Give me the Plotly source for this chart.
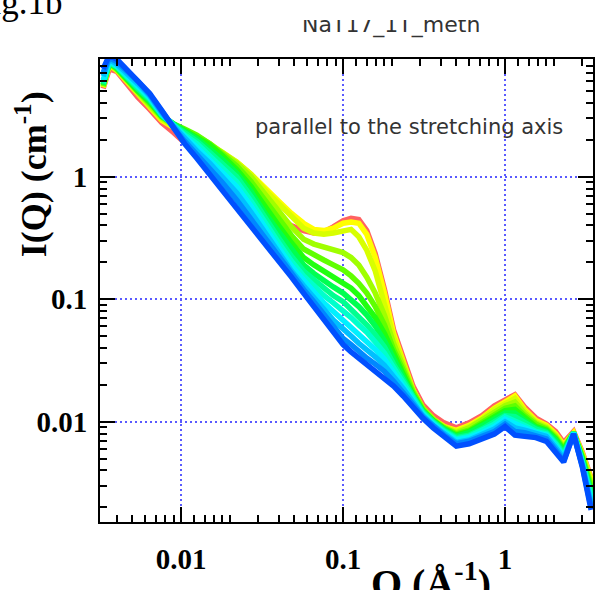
import plotly.graph_objects as go

# ---------------- data ----------------
q_values = [0.0033, 0.0036, 0.0040, 0.0046, 0.0054, 0.0064, 0.0076, 0.0090, 0.0105, 0.0125,
            0.015, 0.018, 0.022, 0.027, 0.033, 0.040, 0.048, 0.057, 0.066, 0.076,
            0.087, 0.100, 0.112, 0.125, 0.140, 0.158, 0.180, 0.205, 0.235, 0.27,
            0.31, 0.36, 0.42, 0.50, 0.60, 0.72, 0.86, 1.00, 1.15, 1.32,
            1.55, 1.80, 2.05, 2.30, 2.65, 3.00, 3.40]

# log10 of I(Q) in cm^-1 for each scan (first = red, last = blue)
log_i_01 = [0.72, 0.88, 0.86, 0.76, 0.65, 0.55, 0.44, 0.36, 0.28, 0.22,
            0.16, 0.10, 0.00, -0.12, -0.24, -0.35, -0.40, -0.44, -0.46, -0.45,
            -0.41, -0.36, -0.34, -0.35, -0.44, -0.63, -0.92, -1.25, -1.48, -1.71,
            -1.86, -1.95, -2.01, -2.05, -2.01, -1.95, -1.87, -1.82, -1.78, -1.88,
            -1.97, -2.02, -2.08, -2.17, -2.08, -2.25, -2.46]
log_i_02 = [0.73, 0.91, 0.87, 0.78, 0.67, 0.57, 0.46, 0.40, 0.35, 0.30,
            0.24, 0.19, 0.12, 0.02, -0.10, -0.20, -0.30, -0.38, -0.43, -0.44,
            -0.42, -0.38, -0.37, -0.38, -0.47, -0.66, -0.95, -1.28, -1.51, -1.74,
            -1.89, -1.98, -2.04, -2.07, -2.03, -1.97, -1.89, -1.84, -1.79, -1.90,
            -1.99, -2.03, -2.10, -2.19, -2.09, -2.26, -2.47]
log_i_03 = [0.73, 0.92, 0.87, 0.79, 0.68, 0.58, 0.47, 0.41, 0.37, 0.32,
            0.26, 0.20, 0.12, 0.02, -0.11, -0.22, -0.33, -0.42, -0.46, -0.47,
            -0.46, -0.44, -0.43, -0.49, -0.60, -0.77, -1.03, -1.31, -1.52, -1.74,
            -1.89, -1.98, -2.04, -2.08, -2.04, -1.98, -1.90, -1.85, -1.81, -1.91,
            -2.00, -2.04, -2.11, -2.20, -2.09, -2.27, -2.49]
log_i_04 = [0.74, 0.92, 0.88, 0.79, 0.69, 0.59, 0.48, 0.42, 0.38, 0.33,
            0.27, 0.20, 0.11, 0.00, -0.15, -0.28, -0.41, -0.51, -0.55, -0.57,
            -0.59, -0.62, -0.66, -0.72, -0.82, -0.95, -1.13, -1.36, -1.55, -1.75,
            -1.89, -1.98, -2.05, -2.09, -2.05, -1.99, -1.92, -1.87, -1.84, -1.93,
            -2.01, -2.05, -2.12, -2.21, -2.09, -2.28, -2.51]
log_i_05 = [0.74, 0.93, 0.88, 0.80, 0.70, 0.60, 0.49, 0.43, 0.39, 0.34,
            0.27, 0.19, 0.09, -0.04, -0.20, -0.34, -0.48, -0.59, -0.64, -0.68,
            -0.72, -0.76, -0.81, -0.87, -0.95, -1.06, -1.21, -1.41, -1.58, -1.76,
            -1.90, -1.99, -2.05, -2.10, -2.07, -2.01, -1.94, -1.89, -1.87, -1.95,
            -2.02, -2.06, -2.13, -2.22, -2.09, -2.29, -2.53]
log_i_06 = [0.75, 0.93, 0.89, 0.80, 0.70, 0.61, 0.49, 0.43, 0.38, 0.33,
            0.26, 0.17, 0.06, -0.08, -0.25, -0.40, -0.54, -0.66, -0.72, -0.77,
            -0.81, -0.86, -0.91, -0.97, -1.05, -1.15, -1.28, -1.45, -1.61, -1.78,
            -1.91, -1.99, -2.06, -2.11, -2.08, -2.02, -1.96, -1.91, -1.90, -1.97,
            -2.04, -2.07, -2.14, -2.23, -2.09, -2.30, -2.56]
log_i_07 = [0.75, 0.93, 0.89, 0.81, 0.71, 0.62, 0.50, 0.43, 0.37, 0.31,
            0.23, 0.14, 0.03, -0.12, -0.30, -0.45, -0.60, -0.72, -0.79, -0.85,
            -0.90, -0.95, -1.00, -1.06, -1.13, -1.22, -1.34, -1.49, -1.63, -1.79,
            -1.91, -2.00, -2.06, -2.12, -2.09, -2.04, -1.98, -1.93, -1.93, -1.99,
            -2.05, -2.08, -2.15, -2.25, -2.09, -2.31, -2.58]
log_i_08 = [0.76, 0.93, 0.90, 0.81, 0.72, 0.63, 0.50, 0.42, 0.36, 0.29,
            0.20, 0.11, 0.00, -0.16, -0.34, -0.50, -0.65, -0.77, -0.84, -0.91,
            -0.97, -1.02, -1.08, -1.14, -1.21, -1.29, -1.39, -1.53, -1.66, -1.80,
            -1.92, -2.00, -2.07, -2.13, -2.11, -2.06, -2.00, -1.95, -1.96, -2.01,
            -2.06, -2.09, -2.17, -2.26, -2.09, -2.32, -2.60]
log_i_09 = [0.77, 0.94, 0.90, 0.82, 0.73, 0.64, 0.51, 0.42, 0.34, 0.27,
            0.17, 0.07, -0.04, -0.20, -0.38, -0.54, -0.69, -0.81, -0.89, -0.97,
            -1.03, -1.09, -1.15, -1.21, -1.27, -1.35, -1.44, -1.56, -1.68, -1.82,
            -1.93, -2.01, -2.08, -2.14, -2.12, -2.07, -2.02, -1.96, -1.99, -2.03,
            -2.08, -2.10, -2.18, -2.28, -2.09, -2.33, -2.62]
log_i_10 = [0.79, 0.95, 0.91, 0.83, 0.74, 0.65, 0.51, 0.41, 0.33, 0.24,
            0.14, 0.04, -0.08, -0.24, -0.42, -0.58, -0.73, -0.85, -0.94, -1.03,
            -1.10, -1.17, -1.22, -1.28, -1.34, -1.41, -1.49, -1.60, -1.71, -1.83,
            -1.94, -2.02, -2.09, -2.15, -2.13, -2.09, -2.04, -1.98, -2.02, -2.05,
            -2.09, -2.11, -2.20, -2.29, -2.09, -2.34, -2.65]
log_i_11 = [0.82, 0.96, 0.92, 0.85, 0.76, 0.66, 0.52, 0.41, 0.31, 0.21,
            0.11, 0.00, -0.13, -0.29, -0.46, -0.62, -0.77, -0.89, -0.98, -1.08,
            -1.17, -1.25, -1.30, -1.36, -1.41, -1.47, -1.54, -1.63, -1.73, -1.84,
            -1.95, -2.03, -2.10, -2.17, -2.15, -2.11, -2.06, -2.00, -2.05, -2.07,
            -2.10, -2.12, -2.21, -2.30, -2.10, -2.35, -2.67]
log_i_12 = [0.85, 0.97, 0.94, 0.87, 0.78, 0.67, 0.53, 0.40, 0.29, 0.18,
            0.07, -0.05, -0.19, -0.35, -0.50, -0.65, -0.80, -0.92, -1.02, -1.12,
            -1.22, -1.32, -1.37, -1.43, -1.48, -1.53, -1.59, -1.67, -1.76, -1.86,
            -1.96, -2.04, -2.11, -2.18, -2.16, -2.12, -2.08, -2.02, -2.08, -2.09,
            -2.12, -2.14, -2.23, -2.32, -2.10, -2.36, -2.70]
log_i_13 = [0.88, 0.99, 0.96, 0.88, 0.79, 0.68, 0.54, 0.39, 0.27, 0.15,
            0.02, -0.11, -0.26, -0.41, -0.55, -0.69, -0.82, -0.95, -1.06, -1.16,
            -1.26, -1.37, -1.43, -1.48, -1.53, -1.58, -1.64, -1.71, -1.79, -1.88,
            -1.97, -2.05, -2.12, -2.20, -2.18, -2.14, -2.10, -2.04, -2.11, -2.12,
            -2.13, -2.16, -2.25, -2.33, -2.10, -2.37, -2.72]

series_logs = [log_i_01, log_i_02, log_i_03, log_i_04, log_i_05, log_i_06, log_i_07,
               log_i_08, log_i_09, log_i_10, log_i_11, log_i_12, log_i_13]
series_colors = ["#ff6262", "#ffff00", "#d8ff00", "#a0ff00", "#60ff00", "#20ff10", "#00ff50",
                 "#00ff90", "#00ffcc", "#00f0ff", "#00c0ff", "#0088ff", "#0050ff"]

x_tick_vals = [0.01, 0.1, 1]
x_tick_text = ["0.01", "0.1", "1"]
x_minor_vals = [0.004, 0.005, 0.006, 0.007, 0.008, 0.009,
                0.012, 0.014, 0.016, 0.018, 0.02, 0.03, 0.04, 0.05, 0.06, 0.07, 0.08, 0.09,
                0.12, 0.14, 0.16, 0.18, 0.2, 0.3, 0.4, 0.5, 0.6, 0.7, 0.8, 0.9,
                1.2, 1.4, 1.6, 1.8, 2, 3]
y_tick_vals = [0.01, 0.1, 1]
y_tick_text = ["0.01", "0.1", "1"]
y_minor_vals = [0.002, 0.003, 0.004, 0.005, 0.006, 0.007, 0.008, 0.009,
                0.02, 0.03, 0.04, 0.05, 0.06, 0.07, 0.08, 0.09,
                0.2, 0.3, 0.4, 0.5, 0.6, 0.7, 0.8, 0.9,
                2, 3, 4, 5, 6, 7, 8, 9]

# ---------------- figure ----------------
fig = go.Figure()
for logs, col in zip(series_logs, series_colors):
    fig.add_trace(go.Scatter(
        x=q_values, y=[10 ** v for v in logs], mode="lines",
        line=dict(color=col, width=5.5), hoverinfo="skip"))

serif_bold = dict(family="Liberation Serif", size=29, color="black", weight="bold")
grid_col = "#5a5aff"

common_axis = dict(
    type="log", showline=True, linecolor="black", linewidth=2, mirror="ticks",
    tickmode="array", ticks="inside", ticklen=15, tickwidth=2, tickcolor="black",
    showgrid=True, gridcolor=grid_col, gridwidth=1.5, griddash="2px,3px",
    zeroline=False, tickfont=serif_bold)

fig.update_xaxes(
    range=[-2.501, 0.543], tickvals=x_tick_vals, ticktext=x_tick_text,
    minor=dict(tickmode="array", tickvals=x_minor_vals, ticks="inside", ticklen=7,
               tickwidth=1.5, tickcolor="black", showgrid=False),
    ticklabelstandoff=10, **common_axis)
fig.update_yaxes(
    range=[-2.819, 0.961], tickvals=y_tick_vals, ticktext=y_tick_text,
    minor=dict(tickmode="array", tickvals=y_minor_vals, ticks="inside", ticklen=7,
               tickwidth=1.5, tickcolor="black", showgrid=False),
    ticklabelstandoff=5, **common_axis)

W, H = 596, 590
ML, MR, MT, MB = 100, 1, 59, 68
PW, PH = W - ML - MR, H - MT - MB


def px(xp):
    return (xp - ML) / PW


def py(yp):
    return (H - MB - yp) / PH


annotations = [
    dict(text="Fig.1b", x=px(64), y=py(2), xanchor="right", yanchor="middle",
         font=dict(family="Liberation Serif", size=35, color="black")),
    dict(text="NaT17_1T_meth", x=px(392), y=py(25), xanchor="center", yanchor="middle",
         font=dict(family="DejaVu Sans", size=22, color="#333333")),
    dict(text="&nbsp;", x=px(392), y=py(-4), xanchor="center", yanchor="top",
         width=260, height=24, bgcolor="white", borderpad=0, borderwidth=0),
    dict(text="parallel to the stretching axis", x=px(254), y=py(127),
         xanchor="left", yanchor="middle",
         font=dict(family="DejaVu Sans", size=21, color="#333333")),
    dict(text="I(Q) (cm<sup>-1</sup>)", x=px(31), y=py(174), textangle=-90,
         xanchor="center", yanchor="middle",
         font=dict(family="Liberation Serif", size=36, color="black", weight="bold")),
    dict(text="Q (Å<sup>-1</sup>)", x=px(432), y=py(580), xanchor="center", yanchor="middle",
         font=dict(family="Liberation Serif", size=40, color="black", weight="bold")),
]
for a in annotations:
    a.update(xref="paper", yref="paper", showarrow=False)

fig.update_layout(
    width=W, height=H, margin=dict(l=ML, r=MR, t=MT, b=MB, pad=0),
    paper_bgcolor="white", plot_bgcolor="white", showlegend=False,
    annotations=annotations)

fig.write_html("out.html", config={"displayModeBar": False},
               post_script="document.body.style.margin='0px';")
